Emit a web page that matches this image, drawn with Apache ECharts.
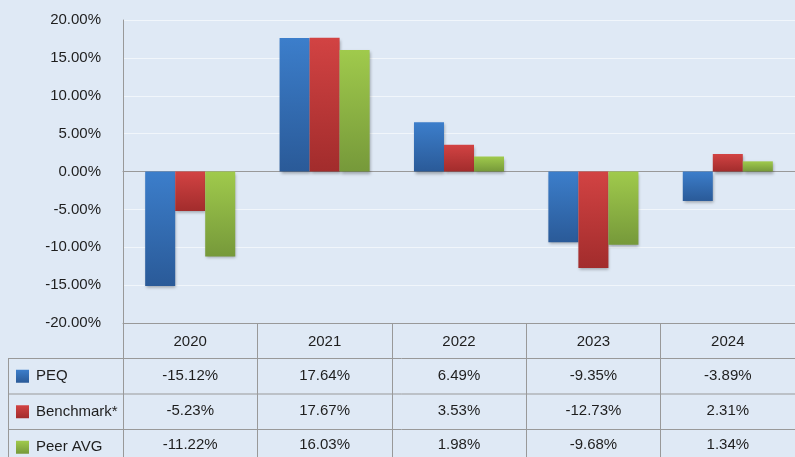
<!DOCTYPE html>
<html><head><meta charset="utf-8">
<script src="https://cdn.jsdelivr.net/npm/echarts@6/dist/echarts.min.js"></script>
<style>html,body{margin:0;padding:0;background:#dfe9f5}#c{width:795px;height:457px}</style>
</head><body><div id="c"></div>
<script>
const categories = ['2020', '2021', '2022', '2023', '2024'];
const seriesNames = ['PEQ', 'Benchmark*', 'Peer AVG'];
const peq = [-15.12, 17.64, 6.49, -9.35, -3.89];
const benchmark = [-5.23, 17.67, 3.53, -12.73, 2.31];
const peerAvg = [-11.22, 16.03, 1.98, -9.68, 1.34];
const yMin = -20, yMax = 20, yStep = 5;

const allData = [peq, benchmark, peerAvg];
const colors = [
  ['#3c7ecb', '#2a5a98'],
  ['#d24343', '#a22c2c'],
  ['#a0ca4c', '#76993a']
];
const fmt = v => v.toFixed(2) + '%';
const FONT = 'Liberation Sans, Arial, sans-serif';
const FS = 15;
const rowH = 35.5, gridBottom = 134, H = 457, W = 795, gridLeft = 123;
const tableTop = H - gridBottom;

const grad = c => new echarts.graphic.LinearGradient(0, 0, 0, 1, [{offset: 0, color: c[0]}, {offset: 1, color: c[1]}]);

const chart = echarts.init(document.getElementById('c'), null, {renderer: 'canvas'});

const graphics = [];
for (let k = 1; k <= 3; k++) {
  graphics.push({type: 'line', shape: {x1: 8, y1: tableTop + rowH * k, x2: W, y2: tableTop + rowH * k}, style: {stroke: '#999', lineWidth: 1}, z: 10});
}
graphics.push({type: 'line', shape: {x1: 8.5, y1: tableTop + rowH, x2: 8.5, y2: H}, style: {stroke: '#999', lineWidth: 1}, z: 10});
seriesNames.forEach((n, i) => {
  const cy = tableTop + rowH * (i + 1) + rowH / 2;
  graphics.push({type: 'rect', shape: {x: 16, y: cy - 6.5, width: 13, height: 13}, style: {fill: grad(colors[i])}, z: 10});
  graphics.push({type: 'text', x: 36, y: cy, style: {text: n, font: FS + 'px ' + FONT, fill: '#1e1e1e', verticalAlign: 'middle'}, z: 10});
});

chart.setOption({
  backgroundColor: '#dfe9f5',
  animation: false,
  grid: {left: gridLeft, right: 0, top: 20, bottom: gridBottom, containLabel: false, outerBoundsMode: 'none'},
  xAxis: [{
    type: 'category', data: categories, position: 'bottom',
    axisLine: {onZero: false, lineStyle: {color: '#999', width: 1}},
    axisTick: {show: true, interval: 0, length: 140, lineStyle: {color: '#999'}},
    axisLabel: {
      interval: 0, margin: 1.5, lineHeight: 34.5, fontSize: FS, fontFamily: FONT, color: '#1e1e1e',
      formatter: (v, i) => [v].concat(allData.map(d => fmt(d[i]))).join('\n')
    }
  }, {
    type: 'category', data: categories, position: 'top',
    axisLine: {onZero: true, lineStyle: {color: '#999', width: 1}},
    axisTick: {show: false}, axisLabel: {show: false}
  }],
  yAxis: {
    type: 'value', min: yMin, max: yMax, interval: yStep,
    axisLine: {show: true, lineStyle: {color: '#999', width: 1}},
    axisTick: {show: false},
    axisLabel: {margin: 22, fontSize: FS, fontFamily: FONT, color: '#1e1e1e', formatter: v => fmt(v)},
    splitLine: {show: true, lineStyle: {color: '#f1f6fb', width: 1}}
  },
  series: allData.map((d, i) => ({
    type: 'bar', name: seriesNames[i], data: d, xAxisIndex: 0,
    barGap: '0%', barCategoryGap: '33%',
    itemStyle: {color: grad(colors[i]), shadowBlur: 3, shadowColor: 'rgba(0,0,0,0.3)', shadowOffsetX: 1, shadowOffsetY: 2}
  })),
  graphic: graphics
});
</script></body></html>
